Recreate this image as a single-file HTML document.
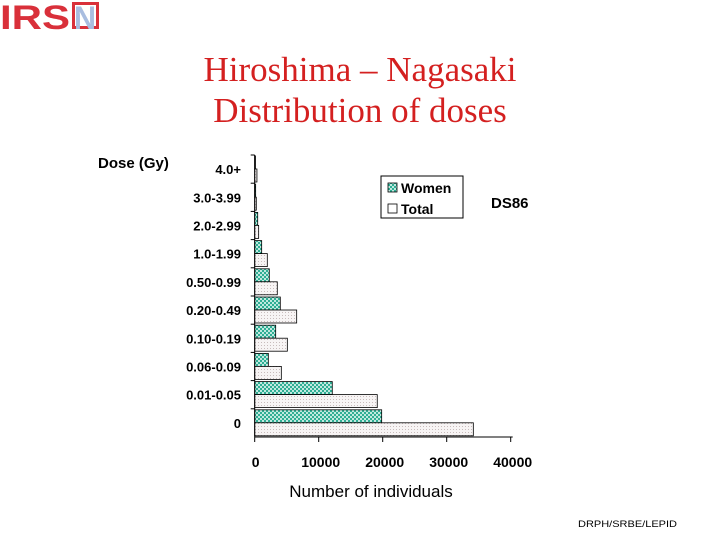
<!DOCTYPE html>
<html><head><meta charset="utf-8"><style>
body{margin:0;background:#fff;width:720px;height:540px;overflow:hidden;font-family:"Liberation Sans",Arial,sans-serif}
</style></head><body>
<svg width="720" height="540" xmlns="http://www.w3.org/2000/svg">
<defs>
<pattern id="pw" width="4" height="4" patternUnits="userSpaceOnUse"><rect width="4" height="4" fill="#bfe9df"/><rect width="2" height="2" fill="#2fae94"/><rect x="2" y="2" width="2" height="2" fill="#2fae94"/></pattern>
<pattern id="pt" width="3" height="3" patternUnits="userSpaceOnUse"><rect width="3" height="3" fill="#f7f4f4"/><rect width="1" height="1" fill="#c8bcbc"/></pattern>
</defs>
<g font-family="Liberation Sans, sans-serif" font-weight="bold" font-size="34">
<text x="0" y="29" fill="#d9303a" textLength="70" lengthAdjust="spacingAndGlyphs">IRS</text><rect x="72" y="2" width="27" height="27" fill="#d9303a"/><rect x="75" y="5" width="21" height="21" fill="#fff"/><text x="74" y="29" fill="#a9bde0" font-size="32" textLength="22" lengthAdjust="spacingAndGlyphs">N</text>
</g>
<text x="360" y="81" text-anchor="middle" font-family="Liberation Serif,serif" font-size="35" fill="#d42020">Hiroshima – Nagasaki</text>
<text x="360" y="122" text-anchor="middle" font-family="Liberation Serif,serif" font-size="35" fill="#d42020">Distribution of doses</text>
<text x="98" y="168" font-size="15" font-weight="bold">Dose (Gy)</text>
<text x="491" y="208" font-size="15" font-weight="bold">DS86</text>
<g id="plot"></g>
<g>
<rect x="381" y="176" width="82" height="42" fill="#fff" stroke="#000"/>
<rect x="388" y="183" width="9" height="9" fill="url(#pw)" stroke="#000" stroke-width="0.8"/>
<text x="401" y="193" font-size="14" font-weight="bold">Women</text>
<rect x="388" y="204" width="9" height="9" fill="#fff" stroke="#000" stroke-width="0.8"/>
<text x="401" y="214" font-size="14" font-weight="bold">Total</text>
</g>
<text x="371" y="497" text-anchor="middle" font-size="17">Number of individuals</text>
<text x="578" y="527" font-size="9" textLength="99" lengthAdjust="spacingAndGlyphs">DRPH/SRBE/LEPID</text>
</svg>
<script>
const categories=["0","0.01-0.05","0.06-0.09","0.10-0.19","0.20-0.49","0.50-0.99","1.0-1.99","2.0-2.99","3.0-3.99","4.0+"];
const women=[19840,12120,2130,3280,4000,2280,1090,470,150,120];
const total=[34160,19150,4160,5100,6560,3530,1970,620,250,350];
const xTicks=[0,10000,20000,30000,40000];
const NS="http://www.w3.org/2000/svg";
const g=document.getElementById('plot');
const X0=254.7,XS=64/10000,YB=437,CH=28.2;
const xs=v=>X0+v*XS;
function mk(t,a){const e=document.createElementNS(NS,t);for(const k in a)e.setAttribute(k,a[k]);g.appendChild(e);return e;}
categories.forEach((c,i)=>{
 const top=YB-(i+1)*CH;
 let r=mk('rect',{x:X0,y:top+1,width:Math.max(women[i]*XS,0.5),height:13,fill:'url(#pw)',stroke:'#000','stroke-width':0.8});
 
 
 r=mk('rect',{x:X0,y:top+14,width:Math.max(total[i]*XS,0.5),height:13,fill:'url(#pt)',stroke:'#000','stroke-width':0.8});
 
 
 const t=mk('text',{x:241,y:top+CH/2+5,'text-anchor':'end','font-size':13,'font-weight':'bold'});
 t.textContent=c;
 
 
 mk('line',{x1:X0-4,x2:X0,y1:top,y2:top,stroke:'#000'});
});
let a=mk('line',{x1:X0,x2:X0,y1:YB-10*CH,y2:YB,stroke:'#000'});


a=mk('line',{x1:X0,x2:xs(40000)+2,y1:YB,y2:YB,stroke:'#000'});


xTicks.forEach(v=>{
 mk('line',{x1:xs(v),x2:xs(v),y1:YB,y2:YB+5,stroke:'#000'});
 const t=mk('text',{x:xs(v)+(v?2:1),y:467,'text-anchor':'middle','font-size':14,'font-weight':'bold'});
 t.textContent=v;
 
 
});
</script>
</body></html>
